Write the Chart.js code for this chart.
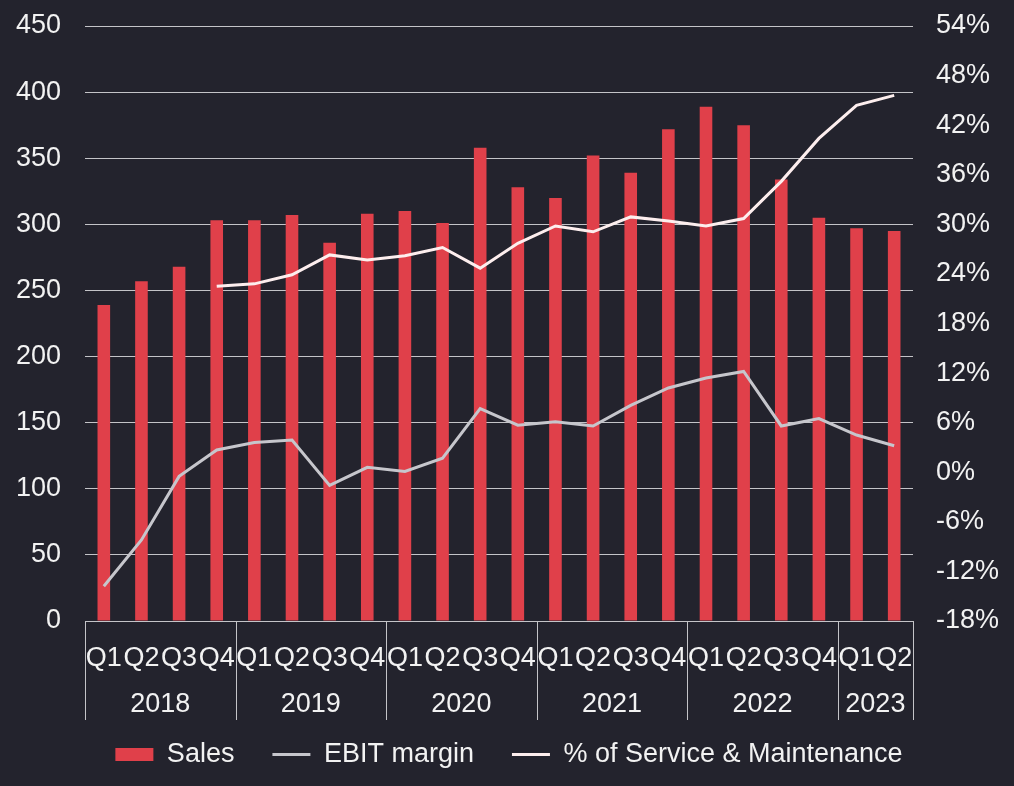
<!DOCTYPE html>
<html>
<head>
<meta charset="utf-8">
<script src="https://cdn.jsdelivr.net/npm/chart.js@4"></script>
<style>
  body { margin: 0; background: #23232d; }
</style>
</head>
<body>
<canvas id="chart" width="1014" height="786"></canvas>
<script>
var quarters = ["Q1","Q2","Q3","Q4","Q1","Q2","Q3","Q4","Q1","Q2","Q3","Q4",
                "Q1","Q2","Q3","Q4","Q1","Q2","Q3","Q4","Q1","Q2"];
var years = ["2018","2019","2020","2021","2022","2023"];
var quartersPerYear = [4, 4, 4, 4, 4, 2];
var sales = [239, 257, 268, 303, 303, 307, 286, 308, 310, 301, 358, 328,
             320, 352, 339, 372, 389, 375, 334, 305, 297, 295];
var ebitMargin = [-13.8, -8.2, -0.5, 2.7, 3.6, 3.9, -1.6, 0.6, 0.1, 1.7, 7.7, 5.7,
                  6.1, 5.6, 8.1, 10.2, 11.4, 12.2, 5.6, 6.5, 4.5, 3.2];
var serviceShare = [null, null, null, 22.5, 22.8, 23.9, 26.3, 25.7, 26.2, 27.2, 24.7, 27.7,
                    29.8, 29.1, 30.9, 30.4, 29.8, 30.7, 35.2, 40.4, 44.4, 45.6];

var textColor = "#f2f2f2";
var gridColor = "#c4c4c8";
var fontFamily = "'Liberation Sans', Arial, sans-serif";
Chart.defaults.font.family = fontFamily;
Chart.defaults.font.size = 27;
Chart.defaults.color = textColor;

// year row under the quarter labels, with the separator lines
var yearRow = {
  id: "yearRow",
  afterDraw: function(chart) {
    var ctx = chart.ctx;
    var x = chart.scales.x;
    var top = chart.chartArea.bottom;
    var half = (x.getPixelForValue(1) - x.getPixelForValue(0)) / 2;
    ctx.save();
    ctx.strokeStyle = gridColor;
    ctx.lineWidth = 1;
    ctx.fillStyle = textColor;
    ctx.font = "27px " + fontFamily;
    ctx.textAlign = "center";
    ctx.textBaseline = "middle";
    var start = 0;
    for (var i = 0; i <= years.length; i++) {
      var px = start < quarters.length ? x.getPixelForValue(start) - half : x.getPixelForValue(quarters.length - 1) + half;
      px = Math.round(px) + 0.5;
      ctx.beginPath();
      ctx.moveTo(px, top);
      ctx.lineTo(px, top + 99);
      ctx.stroke();
      if (i < years.length) {
        var end = start + quartersPerYear[i] - 1;
        var cx = (x.getPixelForValue(start) + x.getPixelForValue(end)) / 2;
        ctx.fillText(years[i], cx, top + 84);
        start = end + 1;
      }
    }
    ctx.restore();
  }
};

var bgFill = {
  id: "bgFill",
  beforeDraw: function(chart) {
    var ctx = chart.ctx;
    ctx.save();
    ctx.fillStyle = "#23232d";
    ctx.fillRect(0, 0, chart.width, chart.height);
    ctx.restore();
  }
};

new Chart(document.getElementById("chart"), {
  type: "bar",
  data: {
    labels: quarters,
    datasets: [
      {
        label: "Sales",
        data: sales,
        backgroundColor: "#e0404a",
        barPercentage: 0.335,
        categoryPercentage: 1,
        yAxisID: "y",
        order: 3
      },
      {
        label: "EBIT margin",
        type: "line",
        data: ebitMargin,
        borderColor: "#c6c6cc",
        backgroundColor: "#c6c6cc",
        borderWidth: 3,
        pointRadius: 0,
        tension: 0,
        yAxisID: "y1",
        order: 2
      },
      {
        label: "% of Service & Maintenance",
        type: "line",
        data: serviceShare,
        borderColor: "#fdeeee",
        backgroundColor: "#fdeeee",
        borderWidth: 3,
        pointRadius: 0,
        tension: 0,
        yAxisID: "y1",
        order: 1
      }
    ]
  },
  options: {
    responsive: false,
    animation: false,
    layout: { padding: { top: 26, bottom: 8, left: 4, right: 0 } },
    plugins: {
      tooltip: { enabled: false },
      legend: {
        position: "bottom",
        labels: {
          usePointStyle: true,
          pointStyleWidth: 38,
          boxHeight: 13,
          padding: 38,
          color: textColor,
          generateLabels: function(chart) {
            return chart.data.datasets.map(function(ds, i) {
              return {
                text: ds.label,
                fillStyle: ds.backgroundColor,
                strokeStyle: ds.borderColor || ds.backgroundColor,
                lineWidth: ds.type === "line" ? 3 : 0,
                pointStyle: ds.type === "line" ? "line" : "rect",
                fontColor: textColor,
                datasetIndex: i
              };
            });
          }
        }
      }
    },
    scales: {
      x: {
        grid: { display: false },
        border: { display: true, color: gridColor },
        ticks: { autoSkip: false, maxRotation: 0, padding: 13, color: textColor },
        afterFit: function(scale) { scale.height = 82; }
      },
      y: {
        position: "left",
        min: 0,
        max: 450,
        ticks: { stepSize: 50, padding: 0, color: textColor },
        grid: { color: gridColor, drawTicks: true, tickLength: 24, tickColor: "transparent" },
        border: { display: false },
        afterFit: function(scale) { scale.width = 81; }
      },
      y1: {
        position: "right",
        min: -18,
        max: 54,
        ticks: {
          stepSize: 6,
          padding: 0,
          color: textColor,
          callback: function(v) { return v + "%"; }
        },
        grid: { drawOnChartArea: false, drawTicks: true, tickLength: 23, tickColor: "transparent" },
        border: { display: false },
        afterFit: function(scale) { scale.width = 101; }
      }
    }
  },
  plugins: [bgFill, yearRow]
});
</script>
</body>
</html>
